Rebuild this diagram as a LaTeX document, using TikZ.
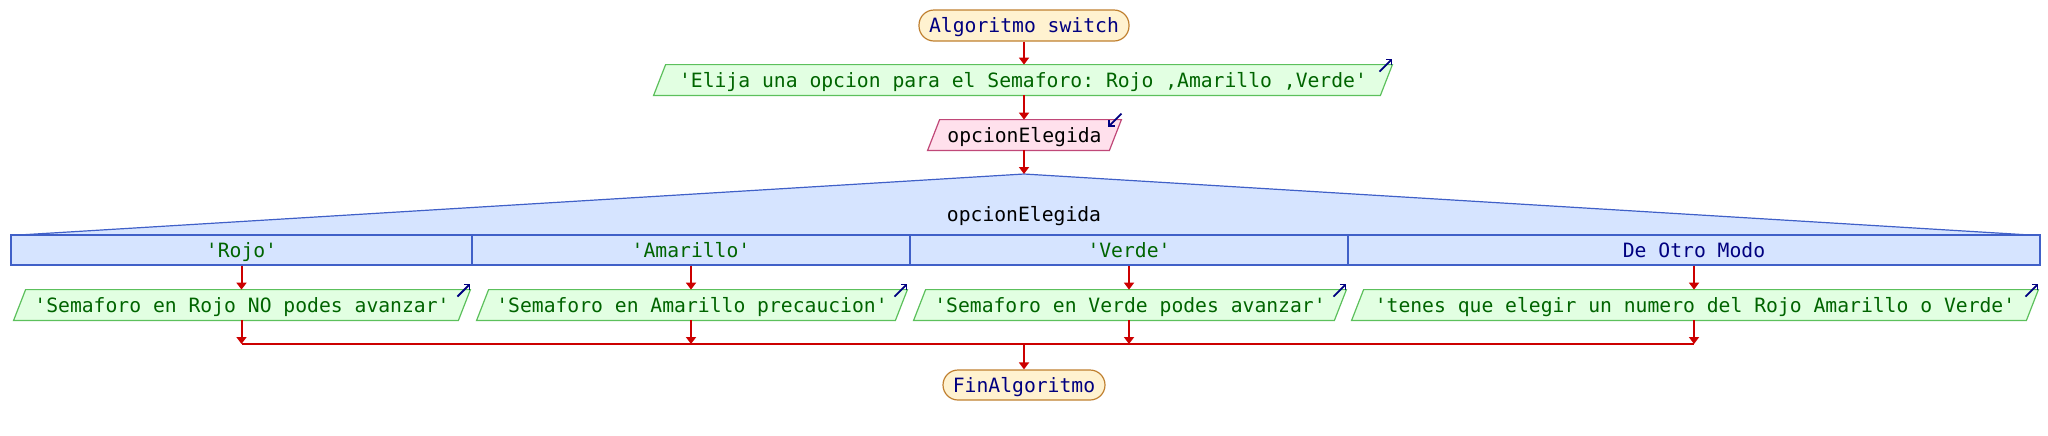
\documentclass[tikz,border=0pt]{standalone}
\usepackage{fontspec}
\setmonofont{DejaVu Sans Mono}
\usetikzlibrary{arrows.meta}
\pgfdeclarelayer{background}
\pgfsetlayers{background,main}
\definecolor{termfill}{RGB}{255,242,208}
\definecolor{termdraw}{RGB}{192,128,48}
\definecolor{navy}{RGB}{0,0,128}
\definecolor{outfill}{RGB}{226,255,226}
\definecolor{outdraw}{RGB}{92,192,92}
\definecolor{outtext}{RGB}{0,100,0}
\definecolor{infill}{RGB}{255,224,236}
\definecolor{indraw}{RGB}{192,72,120}
\definecolor{swfill}{RGB}{214,228,255}
\definecolor{swdraw}{RGB}{64,96,200}
\definecolor{flowred}{RGB}{204,0,0}
\newcommand{\parabox}[2]{\begin{pgfonlayer}{background}\draw[#2] ([xshift=6pt]#1.north west) -- (#1.north east) -- ([xshift=-6pt]#1.south east) -- (#1.south west) -- cycle;\end{pgfonlayer}}
\tikzset{
  txt/.style={inner sep=0pt, text height=7.5pt, text depth=0.5pt, font=\ttfamily\fontsize{9.85}{12}\selectfont, minimum height=15pt},
  term/.style={txt, draw=termdraw, fill=termfill, text=navy, rounded corners=7.5pt, line width=0.6pt},
  outp/.style={txt, text=outtext},
  inp/.style={txt, text=black},
  outshape/.style={draw=outdraw, fill=outfill, line width=0.6pt},
  inshape/.style={draw=indraw, fill=infill, line width=0.6pt},
  casebox/.style={txt, draw=swdraw, fill=swfill, line width=0.6pt, text=outtext},
  flow/.style={draw=flowred, line width=1pt},
  arr/.style={flow, -{Triangle[width=5pt,length=3.5pt]}},
  icon/.style={draw=navy, line width=0.9pt, -{Straight Barb[length=2pt,width=4pt]}},
}
\begin{document}
\begin{tikzpicture}[x=0.5pt,y=-0.5pt]
\useasboundingbox (0,0) rectangle (2048,435);
% start
\node[term, minimum width=105pt, minimum height=15.5pt] (start) at (1024,25.5) {Algoritmo switch};
% first output
\node[outp, minimum width=369pt] (o0) at (1023,80) {'Elija una opcion para el Semaforo: Rojo ,Amarillo ,Verde'};
\parabox{o0}{outshape}
\draw[icon] ([xshift=-6.5pt,yshift=-3.5pt]o0.north east) -- ([yshift=3pt]o0.north east);
% input
\node[inp, minimum width=96.5pt] (in) at (1024.5,135) {opcionElegida};
\parabox{in}{inshape}
\draw[icon] ([yshift=3pt]in.north east) -- ([xshift=-6.5pt,yshift=-3.5pt]in.north east);
% switch
\coordinate (apex) at (1024,174);
\coordinate (tl) at (19,235);
\coordinate (tr) at (2030,235);
\fill[swfill] (tl) -- (apex) -- (tr) -- cycle;
\draw[draw=swdraw, line width=0.6pt] (tl) -- (apex) -- (tr);
\node[txt, text=black] (sel) at (1024,214) {opcionElegida};
\node[casebox, minimum width=230.5pt] (c1) at (241.5,250) {'Rojo'};
\node[casebox, minimum width=219pt] (c2) at (691,250) {'Amarillo'};
\node[casebox, minimum width=219pt] (c3) at (1129,250) {'Verde'};
\node[casebox, minimum width=346pt, text=navy] (c4) at (1694,250) {De Otro Modo};
% outputs
\node[outp, minimum width=228pt] (o1) at (242,305) {'Semaforo en Rojo NO podes avanzar'};
\node[outp, minimum width=215pt] (o2) at (692,305) {'Semaforo en Amarillo precaucion'};
\node[outp, minimum width=216pt] (o3) at (1130,305) {'Semaforo en Verde podes avanzar'};
\node[outp, minimum width=343pt] (o4) at (1695,305) {'tenes que elegir un numero del Rojo Amarillo o Verde'};
\parabox{o1}{outshape}
\parabox{o2}{outshape}
\parabox{o3}{outshape}
\parabox{o4}{outshape}
\foreach \n in {o1,o2,o3,o4}{
  \draw[icon] ([xshift=-6.5pt,yshift=-3.5pt]\n.north east) -- ([yshift=3pt]\n.north east);
}
% end
\node[term, minimum width=81pt] (fin) at (1024,385) {FinAlgoritmo};
% flow
\coordinate (jy) at (0,344);
\draw[arr] (start.south) -- (start.south |- o0.north);
\draw[arr] (start.south |- o0.south) -- (start.south |- in.north);
\draw[arr] (start.south |- in.south) -- (apex);
\foreach \c/\o in {c1/o1,c2/o2,c3/o3,c4/o4}{
  \draw[arr] (\c.south) -- (\c.south |- \o.north);
  \draw[arr] (\c.south |- \o.south) -- (\c.south |- jy);
}
\draw[flow] (c1.south |- jy) -- (c4.south |- jy);
\draw[arr] (fin.north |- jy) -- (fin.north);
\end{tikzpicture}
\end{document}
